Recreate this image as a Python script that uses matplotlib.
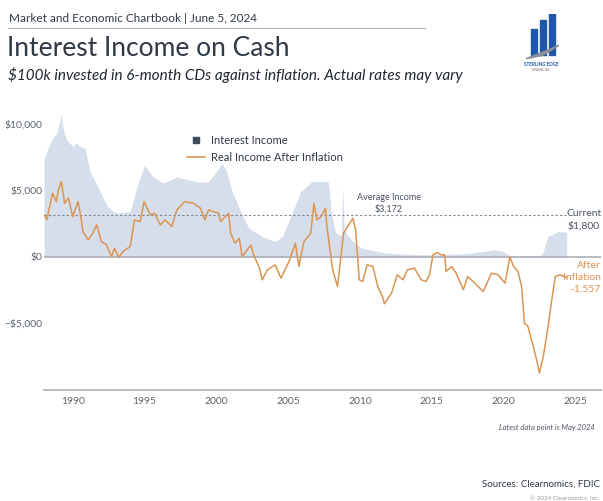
import matplotlib
matplotlib.use("Agg")
import matplotlib.pyplot as plt
from matplotlib.patches import Rectangle, Polygon
from matplotlib.lines import Line2D

plt.rcParams['font.family'] = ['Lato', 'DejaVu Sans']

# ---- data ----
income_years = [1988.0, 1988.3, 1988.6, 1988.9, 1989.2, 1989.35, 1989.56, 1990.0, 1990.25, 1990.5,
                1990.85, 1991.2, 1991.8, 1992.35, 1992.8, 1993.2, 1993.6, 1994.0, 1994.45, 1995.0,
                1995.6, 1996.3, 1997.25, 1998.06, 1998.8, 1999.46, 2000.0, 2000.4, 2000.7, 2001.1,
                2001.8, 2002.26, 2003.2, 2004.1, 2004.6, 2005.5, 2005.87, 2006.4, 2006.6, 2007.8,
                2008.0, 2008.3, 2008.7, 2008.8, 2008.9, 2009.4, 2010.1, 2011.7, 2013.0, 2015.0,
                2016.0, 2017.5, 2018.5, 2019.4, 2020.0, 2020.3, 2021.0, 2022.4, 2022.7, 2023.1,
                2023.8, 2024.4]
income_values = [7300, 8200, 8900, 9300, 10700, 9500, 8800, 8300, 8550, 8300,
                 8175, 6400, 5175, 3900, 3400, 3300, 3350, 3400, 5175, 6900,
                 6000, 5550, 6000, 5775, 5600, 5650, 6400, 7030, 6500, 4900,
                 3150, 2150, 1525, 1150, 1525, 3900, 4900, 5400, 5650, 5650,
                 3300, 1800, 1600, 5275, 2000, 1275, 675, 300, 200, 150,
                 180, 250, 400, 525, 400, 150, 50, 50, 200, 1525,
                 1900, 1850]

real_years = [1988.0, 1988.2, 1988.4, 1988.6, 1988.86, 1989.0, 1989.2, 1989.44, 1989.7, 1990.0,
              1990.37, 1990.6, 1990.7, 1991.07, 1991.4, 1991.66, 1992.0, 1992.35, 1992.7, 1992.9,
              1993.2, 1993.5, 1994.0, 1994.3, 1994.7, 1994.97, 1995.4, 1995.7, 1996.1, 1996.43,
              1996.9, 1997.25, 1997.8, 1998.4, 1998.9, 1999.2, 1999.46, 2000.16, 2000.3, 2000.86,
              2001.0, 2001.3, 2001.6, 2001.8, 2002.15, 2002.4, 2002.6, 2002.7, 2003.0, 2003.2,
              2003.55, 2004.1, 2004.5, 2005.06, 2005.5, 2005.75, 2006.1, 2006.57, 2006.8, 2007.0,
              2007.3, 2007.6, 2007.7, 2008.1, 2008.44, 2008.67, 2008.86, 2009.14, 2009.5, 2009.7,
              2009.95, 2010.2, 2010.5, 2010.9, 2011.24, 2011.6, 2011.7, 2012.2, 2012.6, 2013.0,
              2013.3, 2013.8, 2014.27, 2014.6, 2014.85, 2015.08, 2015.4, 2015.66, 2015.9, 2016.0,
              2016.4, 2016.7, 2017.2, 2017.5, 2018.0, 2018.58, 2019.16, 2019.63, 2020.1, 2020.44,
              2020.7, 2021.0, 2021.26, 2021.45, 2021.7, 2022.07, 2022.3, 2022.5, 2022.77, 2023.1,
              2023.36, 2023.6, 2023.94, 2024.2, 2024.4]
real_values = [3150, 2775, 3800, 4775, 4150, 5025, 5650, 4025, 4425, 3025,
               4150, 2775, 1900, 1275, 1775, 2400, 1150, 900, 25, 650,
               -50, 400, 775, 2775, 2650, 4150, 3150, 3275, 2400, 2775,
               2275, 3525, 4150, 4025, 3650, 2775, 3525, 3275, 2650, 3275,
               1775, 1025, 1400, 25, 525, 900, 150, -100, -850, -1725,
               -975, -600, -1600, -350, 1025, -725, 1150, 1775, 4025, 2775,
               3025, 3650, 2275, -975, -2225, 0, 1775, 2275, 2900, 2025,
               -1725, -1850, -600, -725, -2225, -3075, -3525, -2725, -1350, -1725,
               -975, -850, -1725, -1850, -1350, 150, 325, 150, 150, -1100,
               -725, -1225, -2475, -1475, -1975, -2600, -1225, -1350, -1975, 0,
               -725, -1100, -2225, -4975, -5225, -6725, -7725, -8725, -7475, -5225,
               -3225, -1475, -1350, -1475, -1557]

average_income = 3172
current_income = 1800
current_real = -1557
ytick_values = [-5000, 0, 5000, 10000]
ytick_labels = ['\u2212$5,000', '$0', '$5,000', '$10,000']
xtick_values = [1990, 1995, 2000, 2005, 2010, 2015, 2020, 2025]

# ---- colours ----
AREA = '#d5deea'
ORANGE = '#dc9452'
SLATE = '#3c4a5a'
GRAY = '#5f6670'
AXIS = '#a9b0b8'

fig = plt.figure(figsize=(6.03, 5.01), dpi=100)
fig.patch.set_facecolor('white')

ax = fig.add_axes([0.073, 0.2216, 0.924, 0.558])
ax.fill_between(income_years, 0, income_values, color=AREA, lw=0, zorder=1)
ax.plot(real_years, real_values, color=ORANGE, lw=1.1, zorder=3)
ax.axhline(0, color=AXIS, lw=1.2, zorder=2)
ax.plot([1988.0, 2024.35], [average_income, average_income], color='#7d8590',
        lw=0.8, ls=(0, (2, 2)), zorder=2)

ax.set_xlim(1988.0, 2026.8)
ax.set_ylim(-10000, 11000)
ax.set_yticks(ytick_values)
ax.set_yticklabels(ytick_labels)
ax.set_xticks(xtick_values)
ax.tick_params(axis='both', length=0, labelsize=7.5, labelcolor=GRAY)
ax.tick_params(axis='y', pad=1)
ax.tick_params(axis='x', pad=5)
for s in ['top', 'right', 'left']:
    ax.spines[s].set_visible(False)
ax.spines['bottom'].set_color(AXIS)
ax.spines['bottom'].set_linewidth(1.2)

# annotations
ax.text(2012.0, 3250, 'Average Income\n$3,172', ha='center', va='bottom', fontsize=6.5,
        color='#4a5260', linespacing=1.35)
ax.text(2025.6, 2750, 'Current\n$1,800', ha='center', va='center', fontsize=7.5,
        color='#4a5260', linespacing=1.45)
ax.text(2026.75, -1550, 'After\nInflation\n-1,557', ha='right', va='center', fontsize=7.5,
        color=ORANGE, linespacing=1.45)

# legend
handles = [Line2D([], [], marker='s', color=SLATE, ls='none', markersize=5),
           Line2D([], [], color=ORANGE, lw=1.2)]
leg = ax.legend(handles, ['Interest Income', 'Real Income After Inflation'],
                loc='upper left', bbox_to_anchor=(0.239, 0.948), frameon=False,
                fontsize=8, handlelength=1.6, handletextpad=0.5, labelspacing=0.5)
for t in leg.get_texts():
    t.set_color('#2f3a46')

# header
fig.text(0.015, 0.963, 'Market and Economic Chartbook | June 5, 2024', fontsize=8.5,
         color='#2f3a46', va='center')
fig.add_artist(Line2D([0.013, 0.705], [0.944, 0.944], color='#b0b4ba', lw=0.8))
fig.text(0.011, 0.903, 'Interest Income on Cash', fontsize=19, color='#2f3a46', va='center')
fig.text(0.013, 0.851, '$100k invested in 6-month CDs against inflation. Actual rates may vary',
         fontsize=11, style='italic', color='#1f2730', va='center')

# logo
lax = fig.add_axes([0.872, 0.878, 0.055, 0.095])
lax.set_xlim(0, 1); lax.set_ylim(0, 1); lax.axis('off')
for x0, h in [(0.15, 0.55), (0.42, 0.75), (0.69, 0.95)]:
    lax.add_patch(Rectangle((x0, 0.12), 0.2, h, color='#1f56a8'))
lax.add_patch(Polygon([[0.0, 0.05], [0.5, 0.12], [1.05, 0.35], [0.55, 0.2]], color='#8a8f96'))
fig.text(0.898, 0.872, 'STERLING EDGE', fontsize=3.3, color='#1f56a8', ha='center',
         va='center', weight='bold')
fig.text(0.898, 0.861, 'FINANCIAL', fontsize=2.6, color='#777', ha='center', va='center')

# footer
fig.text(0.986, 0.146, 'Latest data point is May 2024', fontsize=5.5, style='italic',
         color='#4a5260', ha='right', va='center')
fig.text(0.995, 0.033, 'Sources: Clearnomics, FDIC', fontsize=7, color='#2f3a46',
         ha='right', va='center')
fig.text(0.995, 0.004, '\u00a9 2024 Clearnomics, Inc.', fontsize=4.5, color='#999',
         ha='right', va='center')

fig.savefig('out.png', dpi=100, facecolor='white')
